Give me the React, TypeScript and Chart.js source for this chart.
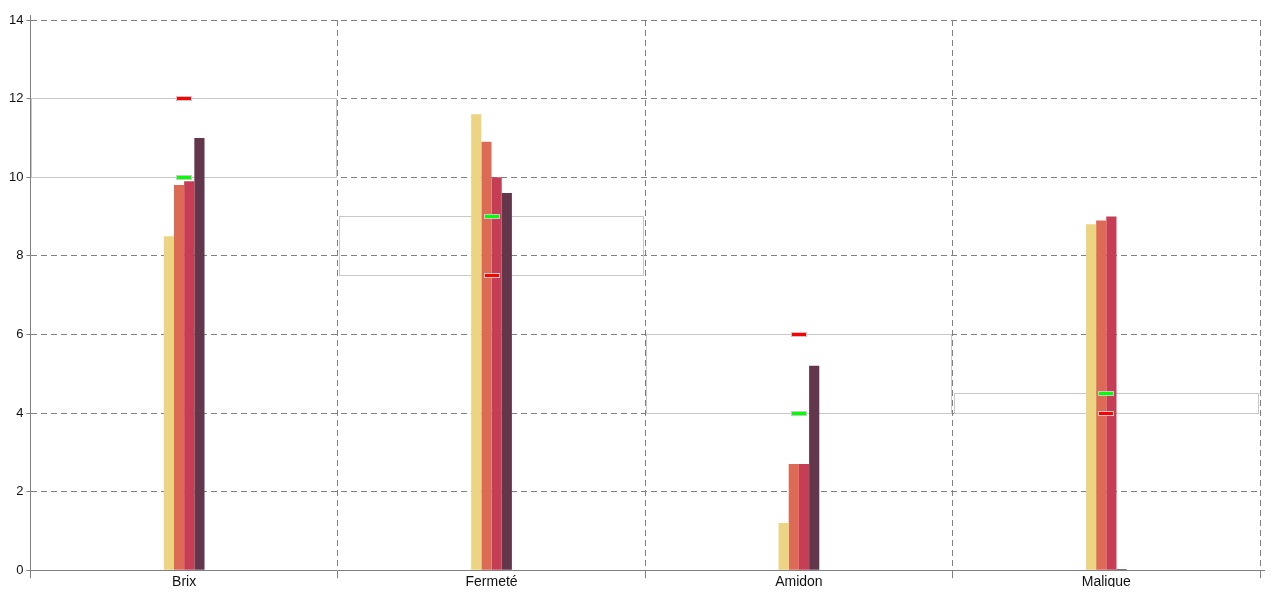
import React, { useEffect, useRef } from 'react';
import { Chart, registerables } from 'chart.js';

Chart.register(...registerables);

const categories = ['Brix', 'Fermeté', 'Amidon', 'Malique'];
const serie1 = [8.5, 11.6, 1.2, 8.8];
const serie2 = [9.8, 10.9, 2.7, 8.9];
const serie3 = [9.9, 10.0, 2.7, 9.0];
const serie4 = [11.0, 9.6, 5.2, 0.03];
const greenMarks = [10, 9, 4, 4.5];
const redMarks = [12, 7.5, 6, 4];
const yMin = 0;
const yMax = 14;
const yStep = 2;

const seriesColors = ['#EDD482', '#DC6A55', '#C63D56', '#63374B'];
const FONT = "'Liberation Sans', Arial, sans-serif";
const GRID = '#808080';
const BOX = '#C8C8C8';

const crisp = (p: number) => Math.round(p - 0.5) + 0.5;

const overlayPlugin = {
  id: 'overlay',
  beforeDatasetsDraw(chart: any) {
    const ctx = chart.ctx;
    chart.data.datasets.forEach((ds: any, di: number) => {
      if (!ds.isRangeBox) return;
      const meta = chart.getDatasetMeta(di);
      ctx.save();
      ctx.strokeStyle = BOX;
      ctx.lineWidth = 1;
      meta.data.forEach((el: any) => {
        const { x, y, base, width } = el.getProps(['x', 'y', 'base', 'width'], true);
        const l = crisp(x - width / 2);
        const r = crisp(x + width / 2);
        const t = crisp(Math.min(y, base));
        const b = crisp(Math.max(y, base));
        ctx.strokeRect(l, t, r - l, b - t);
      });
      ctx.restore();
    });
  },
  afterDatasetsDraw(chart: any) {
    const ctx = chart.ctx;
    chart.data.datasets.forEach((ds: any, di: number) => {
      if (!ds.markerColor) return;
      const meta = chart.getDatasetMeta(di);
      ctx.save();
      meta.data.forEach((el: any) => {
        const { x, y } = el.getProps(['x', 'y'], true);
        const cx = Math.round(x);
        const cy = Math.round(y - 0.5);
        ctx.fillStyle = BOX;
        ctx.fillRect(cx - 8, cy - 2, 16, 5);
        ctx.fillStyle = ds.markerColor;
        ctx.fillRect(cx - 7, cy - 1, 14, 3);
      });
      ctx.restore();
    });
  },
  afterDraw(chart: any) {
    const ctx = chart.ctx;
    const { left, top, right, bottom } = chart.chartArea;
    ctx.save();
    ctx.strokeStyle = GRID;
    ctx.lineWidth = 1;
    ctx.beginPath();
    ctx.moveTo(crisp(left), top - 5);
    ctx.lineTo(crisp(left), top);
    ctx.moveTo(right, crisp(bottom));
    ctx.lineTo(right + 5, crisp(bottom));
    ctx.stroke();
    ctx.restore();
  },
};

export default function App() {
  const ref = useRef<HTMLCanvasElement | null>(null);

  useEffect(() => {
    if (!ref.current) return;
    const ranges = greenMarks.map((g, i) => [Math.min(g, redMarks[i]), Math.max(g, redMarks[i])]);
    const series = [serie1, serie2, serie3, serie4];

    const chart = new Chart(ref.current, {
      type: 'bar',
      data: {
        labels: categories,
        datasets: [
          {
            type: 'line',
            label: 'Min',
            data: greenMarks,
            showLine: false,
            pointRadius: 0,
            markerColor: '#00FF00',
            order: 0,
          } as any,
          {
            type: 'line',
            label: 'Max',
            data: redMarks,
            showLine: false,
            pointRadius: 0,
            markerColor: '#FF0000',
            order: 0,
          } as any,
          ...series.map((d, i) => ({
            type: 'bar',
            label: 'Série ' + (i + 1),
            data: d,
            backgroundColor: seriesColors[i],
            borderWidth: 0,
            categoryPercentage: 0.1325,
            barPercentage: 1,
            order: 1,
          })),
          {
            type: 'bar',
            label: 'Plage',
            isRangeBox: true,
            data: ranges,
            grouped: false,
            backgroundColor: 'rgba(0,0,0,0)',
            borderWidth: 0,
            categoryPercentage: 1,
            barPercentage: 0.99,
            order: 2,
          } as any,
        ] as any,
      },
      options: {
        animation: false,
        responsive: true,
        maintainAspectRatio: false,
        layout: { padding: { top: 20, right: 20, left: 6, bottom: 13 } },
        plugins: {
          legend: { display: false },
          tooltip: { enabled: false },
        },
        scales: {
          x: {
            type: 'category',
            offset: true,
            grid: { color: GRID, offset: true, tickLength: 8, tickColor: GRID },
            border: { display: true, color: GRID, dash: [6, 4] },
            ticks: { color: '#111', font: { size: 14, family: FONT }, padding: -4 },
          },
          y: {
            min: yMin,
            max: yMax,
            grid: { color: GRID, tickLength: 4, tickColor: GRID },
            border: { display: true, color: GRID, dash: [6, 4] },
            ticks: { stepSize: yStep, color: '#111', font: { size: 13, family: FONT }, padding: 3 },
          },
        },
      } as any,
      plugins: [overlayPlugin],
    });
    return () => chart.destroy();
  }, []);

  return (
    <div style={{ position: 'fixed', left: 0, top: 0, width: 1280, height: 600, background: '#fff' }}>
      <canvas ref={ref} />
    </div>
  );
}
